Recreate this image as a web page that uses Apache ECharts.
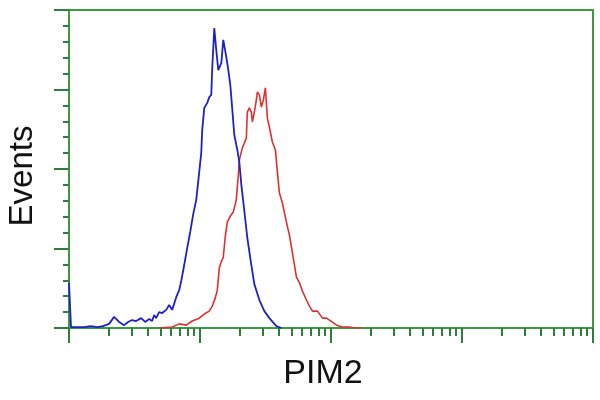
<!DOCTYPE html>
<html>
<head>
<meta charset="utf-8">
<script src="https://cdn.jsdelivr.net/npm/echarts@6/dist/echarts.min.js"></script>
<style>html,body{margin:0;padding:0;background:#fff}#c{width:600px;height:400px}</style>
</head>
<body>
<div id="c"></div>
<script>
// Fluorescence channel values (log scale) and event heights (% of full scale)
var blueX = [1, 1.036, 1.302, 1.473, 1.637, 1.820, 2.023, 2.209, 2.412, 2.634, 2.827, 3.032, 3.253, 3.554, 3.814, 4.092, 4.313, 4.468, 4.628, 4.879, 5.143, 5.519, 5.818, 6.134, 6.583, 6.939, 7.188, 7.578, 7.989, 8.422, 8.879, 9.361, 9.869, 10.22, 10.40, 10.78, 11.36, 11.77, 12.19, 12.41, 12.85, 13.31, 13.79, 14.54, 15.06, 15.88, 16.45, 17.04, 17.65, 18.28, 19.27, 19.96, 20.68, 21.80, 22.98, 24.66, 25.99, 28.39, 31.00, 33.85, 38.30, 41.82];
var blueY = [14.2, 0.3, 0.3, 0.6, 0.3, 0.6, 1.3, 3.5, 1.9, 0.9, 1.9, 2.5, 2.2, 3.1, 1.9, 2.8, 2.2, 4.1, 3.1, 5.0, 4.7, 5.7, 7.2, 5.7, 9.7, 11.9, 14.8, 19.8, 25.2, 30.2, 35.8, 40.3, 49.1, 55.0, 62.3, 69.2, 70.8, 72.6, 73.3, 82.1, 94.3, 87.4, 81.1, 83.3, 90.6, 85.2, 81.1, 76.4, 68.6, 60.7, 56.0, 52.2, 45.0, 36.8, 28.3, 19.8, 13.8, 8.8, 5.3, 3.1, 0.6, 0];
var redX = [4.879, 6.134, 6.939, 7.850, 8.724, 9.869, 10.78, 11.77, 12.41, 13.08, 13.55, 14.04, 14.54, 15.06, 15.60, 16.16, 17.04, 17.96, 18.93, 19.61, 19.96, 21.04, 22.58, 22.98, 23.81, 24.66, 25.10, 25.99, 26.93, 27.41, 28.39, 29.41, 30.46, 31.55, 32.68, 33.85, 35.69, 37.63, 38.98, 40.37, 42.56, 45.67, 48.15, 50.77, 54.47, 57.42, 60.53, 64.95, 68.48, 72.19, 78.84, 86.09, 92.39, 97.39, 110.2, 122.4, 138.5, 151.2, 174.1];
var redY = [0, 0.3, 1.3, 0.9, 2.2, 3.1, 4.4, 5.3, 6.9, 9.4, 11.9, 18.9, 20.8, 22.3, 28.9, 33.3, 35.2, 36.5, 40.3, 48.1, 52.8, 56.6, 59.7, 67.9, 69.2, 67.9, 64.8, 67.9, 71.7, 74.2, 73.3, 69.5, 71.7, 75.5, 66.0, 63.2, 58.5, 56.0, 49.1, 42.5, 39.3, 33.3, 29.2, 23.6, 16.0, 14.2, 11.6, 8.8, 6.9, 5.3, 5.3, 3.1, 3.1, 2.5, 0.9, 0.3, 0.3, 0, 0];
// Axis ticks
var decades = [1, 10, 100, 1000, 10000];
var minorMultipliers = [2, 3, 4, 5, 6, 7, 8, 9];
var xAxisName = 'PIM2';
var yAxisName = 'Events';

var majorLog = decades.map(function (d) { return Math.log10(d); });
var minorLog = [];
decades.slice(0, -1).forEach(function (d) {
  minorMultipliers.forEach(function (m) { minorLog.push(Math.log10(d * m)); });
});
function zip(xs, ys) { return xs.map(function (x, i) { return [x, ys[i]]; }); }

var GREEN = '#3a9c3e';
var TICK = '#2e7f3a';
var FONT = 'Liberation Sans, Arial, sans-serif';

var chart = echarts.init(document.getElementById('c'), null, { renderer: 'canvas' });
chart.setOption({
  animation: false,
  backgroundColor: '#ffffff',
  grid: { left: 69, right: 7, top: 10, bottom: 72, containLabel: false, outerBoundsMode: 'none', show: true, borderColor: GREEN, borderWidth: 2, backgroundColor: 'transparent' },
  xAxis: [
    {
      type: 'log', logBase: 10, min: 1, max: 10000, position: 'bottom',
      axisLine: { show: true, lineStyle: { color: GREEN, width: 2 } },
      axisTick: { show: false }, axisLabel: { show: false }, splitLine: { show: false },
      name: xAxisName, nameLocation: 'middle', nameGap: 29,
      nameTextStyle: { fontSize: 34, color: '#111', fontFamily: FONT, padding: [0, 16, 0, 0] }
    },
    {
      type: 'value', min: 0, max: 4, position: 'bottom',
      axisLine: { show: false },
      axisTick: { show: true, length: 15, customValues: majorLog, lineStyle: { color: TICK, width: 2 } },
      axisLabel: { show: false }, splitLine: { show: false }
    },
    {
      type: 'value', min: 0, max: 4, position: 'bottom',
      axisLine: { show: false },
      axisTick: { show: true, length: 8, customValues: minorLog, lineStyle: { color: TICK, width: 2 } },
      axisLabel: { show: false }, splitLine: { show: false }
    }
  ],
  yAxis: {
    type: 'value', min: 0, max: 100, interval: 25,
    axisLine: { show: true, lineStyle: { color: GREEN, width: 2 } },
    axisTick: { show: true, length: 15, lineStyle: { color: TICK, width: 2 } },
    minorTick: { show: true, splitNumber: 5, length: 6, lineStyle: { color: TICK, width: 2 } },
    axisLabel: { show: false }, splitLine: { show: false }, minorSplitLine: { show: false },
    name: yAxisName, nameLocation: 'middle', nameGap: 30, nameRotate: 90,
    nameTextStyle: { fontSize: 33, color: '#111', fontFamily: FONT, padding: [0, 14, 0, 0] }
  },
  series: [
    {
      type: 'line', xAxisIndex: 0, data: zip(redX, redY), showSymbol: false, symbol: 'none',
      lineStyle: { color: '#e0302e', width: 1.6 }, z: 2
    },
    {
      type: 'line', xAxisIndex: 0, data: zip(blueX, blueY), showSymbol: false, symbol: 'none',
      lineStyle: { color: '#2020c8', width: 1.8 }, z: 3
    }
  ]
});
</script>
</body>
</html>
